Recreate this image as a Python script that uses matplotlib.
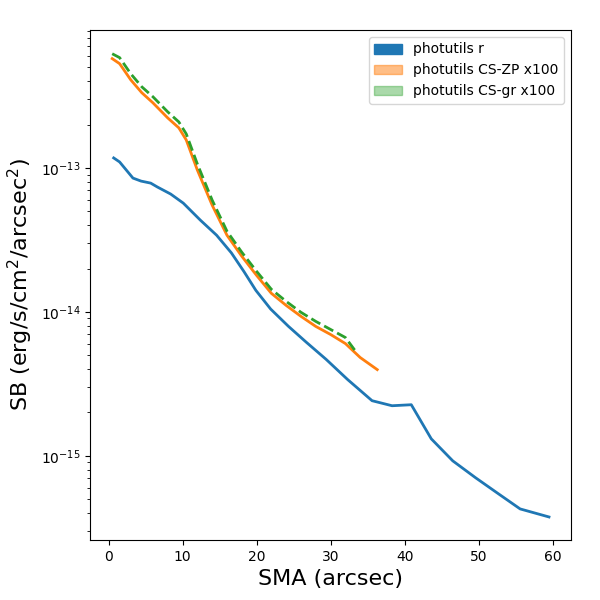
import matplotlib
matplotlib.use("Agg")
import matplotlib.pyplot as plt
import matplotlib.patches as mpatches
import numpy as np

# SMA (arcsec) y log10(SB)
sma_r = [0.7, 1.5, 2.4, 3.3, 4.4, 5.7, 6.6, 8.4, 10.1, 12.4, 14.6, 16.6, 18.3, 19.9, 21.9, 24.3,
         26.7, 29.4, 32.3, 35.6, 38.3, 40.9, 43.6, 46.5, 49.6, 52.7, 55.6, 59.5]
logsb_r = [-12.930, -12.958, -13.014, -13.070, -13.091, -13.105, -13.132, -13.181, -13.244, -13.362,
           -13.467, -13.590, -13.720, -13.850, -13.980, -14.100, -14.210, -14.330, -14.470, -14.617,
           -14.652, -14.645, -14.882, -15.035, -15.153, -15.265, -15.369, -15.425]

sma_zp = [0.5, 1.5, 3, 4.5, 6, 8, 9.5, 10.5, 12, 14, 16, 18, 20, 22, 24, 26, 28, 30, 32, 34, 36.3]
logsb_zp = [-12.240, -12.275, -12.387, -12.477, -12.547, -12.652, -12.721, -12.805, -13.014, -13.258,
            -13.467, -13.613, -13.746, -13.871, -13.955, -14.031, -14.101, -14.157, -14.220, -14.317, -14.401]

sma_gr = [0.5, 1.5, 3, 4.5, 6, 8, 9.5, 10.5, 12, 14, 16, 18, 20, 22, 24, 26, 28, 30, 32, 33.5]
logsb_gr = [-12.206, -12.233, -12.345, -12.436, -12.505, -12.610, -12.680, -12.763, -12.972, -13.223,
            -13.439, -13.585, -13.718, -13.843, -13.927, -14.003, -14.066, -14.122, -14.178, -14.282]

fig = plt.figure(figsize=(6, 6), dpi=100)
ax = fig.add_axes([0.15, 0.1, 0.802, 0.85])

ax.plot(sma_r, 10 ** np.array(logsb_r), color="C0", lw=2)
ax.plot(sma_zp, 10 ** np.array(logsb_zp), color="C1", lw=2)
ax.plot(sma_gr, 10 ** np.array(logsb_gr), color="C2", lw=2, ls="--")

ax.set_yscale("log")
ax.set_xlim(-2.5, 62.5)
ax.set_ylim(2.6e-16, 9.1e-13)
ax.set_xlabel("SMA (arcsec)", fontsize=16)
ax.set_ylabel("SB (erg/s/cm$^2$/arcsec$^2$)", fontsize=16)

handles = [mpatches.Patch(color="C0", label="photutils r"),
           mpatches.Patch(color="C1", alpha=0.5, label="photutils CS-ZP x100"),
           mpatches.Patch(color="C2", alpha=0.4, label="photutils CS-gr x100")]
ax.legend(handles=handles, loc="upper right")

fig.savefig("out.png")
